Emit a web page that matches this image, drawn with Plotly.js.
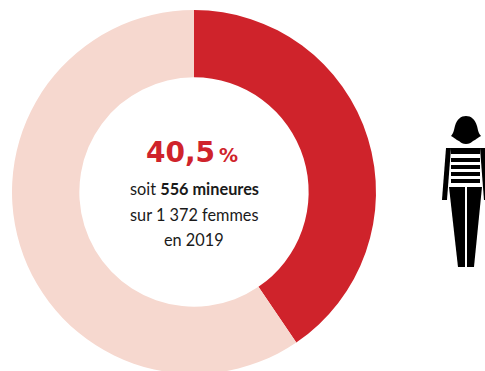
<!DOCTYPE html>
<html><head><meta charset="utf-8">
<script src="https://cdn.plot.ly/plotly-3.0.1.min.js"></script>
<style>html,body{margin:0;padding:0;background:#fff;overflow:hidden}#c{width:485px;height:375px}</style>
</head><body><div id="c"></div>
<script>
const categories = ['Mineures', 'Autres'];
const values = [40.5, 59.5];
const colors = ['#cf232b', '#f6d8cf'];
const W = 485, H = 375;
const narrow = 'Lato,"Liberation Sans",sans-serif';
const px = (x, y) => (x / W).toFixed(4) + ',' + (1 - y / H).toFixed(4);
const poly = pts => 'M' + pts.map(p => px(p[0], p[1])).join('L') + 'Z';
const blackShape = d => ({type:'path', xref:'paper', yref:'paper', path:d, fillcolor:'#000', line:{width:0}});
const stripes = [[148,154],[158,162],[165,169],[172,176],[179,183]];
const figure = [
  // head
  'M'+px(451,136)+'C'+px(454,133)+' '+px(454,129)+' '+px(455,126)+'C'+px(457,119)+' '+px(461,116)+' '+px(466,116)
   +'C'+px(471,116)+' '+px(475,119)+' '+px(477,126)+'C'+px(478,129)+' '+px(478,133)+' '+px(481,136)
   +'C'+px(477,138)+' '+px(476,140)+' '+px(473,141)+'C'+px(471,143)+' '+px(469,144)+' '+px(466,144)
   +'C'+px(463,144)+' '+px(461,143)+' '+px(459,141)+'C'+px(456,140)+' '+px(455,138)+' '+px(451,136)+'Z',
  // arms
  poly([[446,148],[451,148],[447,200],[442,200]]),
  poly([[480,148],[485,148],[485,200],[484,200]]),
  // legs
  poly([[449,187],[465,187],[465,267],[458,267]]),
  poly([[467,187],[482,187],[474,267],[467,267]])
].concat(stripes.map(s => poly([[451,s[0]],[480,s[0]],[480,s[1]],[451,s[1]]]))).map(blackShape);
const ann = (text, y, size, color, font) => ({
  text, x:194/W, y:1-y/H, xref:'paper', yref:'paper', xanchor:'center', yanchor:'middle',
  showarrow:false, font:{family:font||narrow, size, color}
});
Plotly.newPlot('c', [{
  type:'pie', labels:categories, values:values, hole:0.63, sort:false, direction:'clockwise', rotation:0,
  marker:{colors:colors, line:{width:0}}, textinfo:'none', hoverinfo:'label+percent', showlegend:false,
  domain:{x:[12/W,376/W], y:[1-374/H,1-10/H]}
}], {
  width:W, height:H, margin:{l:0,r:0,t:0,b:0}, paper_bgcolor:'#fff', showlegend:false,
  shapes:figure,
  annotations:[
    {text:'<b>40,5</b>', x:180/W, y:1-153/H, xref:'paper', yref:'paper', xanchor:'center', yanchor:'middle', showarrow:false,
     font:{family:'"DejaVu Sans",sans-serif', size:28, color:'#cf232b'}},
    {text:'<b>%</b>', x:228/W, y:1-155/H, xref:'paper', yref:'paper', xanchor:'center', yanchor:'middle', showarrow:false,
     font:{family:'"DejaVu Sans",sans-serif', size:19, color:'#cf232b'}},
    ann('soit <b>556 mineures</b>', 188, 16.3, '#1a1a1a'),
    ann('sur 1 372 femmes', 214, 16.3, '#1a1a1a'),
    ann('en 2019', 239, 16.3, '#1a1a1a')
  ]
}, {staticPlot:true, displayModeBar:false});
</script></body></html>
